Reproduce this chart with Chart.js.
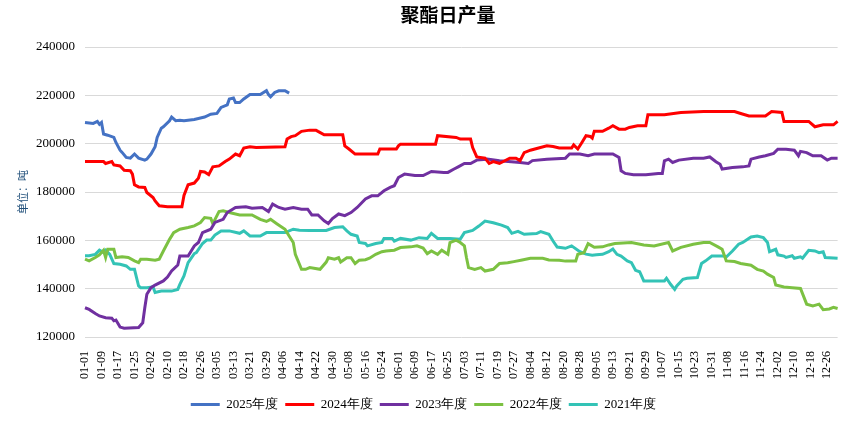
<!DOCTYPE html>
<html>
<head>
<meta charset="utf-8">
<script src="https://cdn.jsdelivr.net/npm/chart.js@4.4.1/dist/chart.umd.min.js"></script>
<style>
  html, body { margin: 0; padding: 0; background: #fff; }
</style>
</head>
<body>
<canvas id="myChart" width="858" height="421"></canvas>
<script>
// categories: every day of a (leap) year, MM-DD
const monthDays = [31, 29, 31, 30, 31, 30, 31, 31, 30, 31, 30, 31];
const categories = [];
monthDays.forEach((n, m) => {
  for (let d = 1; d <= n; d++) {
    categories.push(String(m + 1).padStart(2, '0') + '-' + String(d).padStart(2, '0'));
  }
});
const tickEvery = 8;

const chartTitle = '聚酯日产量';
const yTitle = '单位：吨';
const yMin = 120000;
const yMax = 240000;
const yStep = 20000;

const seriesNames = ['2025年度', '2024年度', '2023年度', '2022年度', '2021年度'];
const seriesColors = ['#4472C4', '#FF0000', '#7030A0', '#7CC142', '#33C3B6'];

// [day index, value]
const s2025 = [[0,208800],[4,208400],[6,209200],[7,208000],[8,208800],[9,204000],[11,203500],[14,202600],[15,200500],[17,197300],[18,196400],[20,194300],[22,194000],[24,195700],[26,194000],[29,193200],[30,193600],[32,195700],[34,198700],[35,202600],[37,206400],[38,207000],[41,209500],[42,211000],[44,209500],[46,209700],[48,209500],[53,210000],[56,210600],[58,211000],[61,212200],[64,212500],[66,215000],[69,216100],[70,218500],[72,218900],[73,217000],[75,217000],[77,218500],[80,220300],[85,220300],[88,221900],[89,220300],[90,219400],[92,221200],[94,221900],[97,221900],[99,220900]];

const s2024 = [[0,192600],[9,192600],[10,191800],[13,192600],[14,191200],[17,190800],[19,189000],[22,188800],[23,187400],[24,183000],[26,182100],[29,181900],[30,179800],[33,177700],[34,176300],[36,174300],[40,173900],[47,173900],[48,178600],[50,183000],[53,183700],[55,185700],[56,188500],[58,188300],[60,187200],[62,190400],[65,190800],[68,192600],[70,193600],[73,195700],[75,195000],[77,198200],[80,198700],[83,198400],[97,198700],[98,201900],[100,202900],[102,203300],[105,205100],[109,205600],[112,205600],[113,205100],[116,203700],[125,203700],[126,199100],[128,197800],[131,195700],[142,195700],[143,197800],[151,197800],[152,199100],[153,199800],[170,199800],[171,203300],[180,202600],[182,201900],[187,201900],[188,198400],[190,194500],[194,194000],[196,191800],[198,192600],[201,191800],[206,194000],[209,194000],[211,193000],[213,196300],[216,197300],[220,198200],[224,199100],[227,198800],[230,198200],[236,198200],[237,199500],[239,197800],[241,200500],[243,203300],[245,203000],[246,202300],[247,205100],[251,205100],[254,206400],[256,207400],[259,206000],[262,206000],[264,206700],[268,207400],[272,207400],[273,212000],[281,212000],[289,212900],[300,213300],[315,213300],[318,212500],[322,211500],[330,211500],[333,213300],[338,212900],[339,209200],[351,209200],[354,207000],[358,207800],[363,207800],[365,209200]];

const s2023 = [[0,132100],[2,131400],[5,129700],[7,128700],[10,128000],[13,127800],[14,126700],[15,127000],[17,124100],[19,123600],[26,123900],[28,125900],[29,132100],[30,137700],[32,140400],[34,141500],[38,143200],[40,144800],[42,147300],[45,149800],[46,153500],[50,153500],[53,157700],[55,159100],[57,163200],[61,164600],[63,167400],[67,168700],[69,171500],[73,173600],[78,173900],[81,173300],[86,173600],[89,171900],[91,175000],[94,173600],[97,172900],[101,173600],[105,172900],[108,172900],[110,170500],[113,170500],[116,168100],[118,167000],[120,169000],[123,170900],[126,170200],[129,171500],[132,173600],[136,177100],[139,178400],[142,178400],[145,180500],[148,181900],[150,182600],[152,186000],[155,187400],[160,186800],[164,186800],[168,188500],[174,188100],[176,188100],[179,189500],[181,190400],[184,191800],[187,191800],[190,193200],[195,193600],[201,192900],[211,192200],[215,191800],[217,193000],[224,193600],[233,194000],[235,195700],[240,195700],[244,195000],[247,195700],[256,195700],[259,194300],[260,188800],[262,187700],[266,187100],[272,187100],[278,187700],[280,187700],[281,192900],[283,193600],[285,192200],[288,193200],[295,194000],[300,194000],[303,194500],[306,192500],[308,191500],[309,189500],[314,190100],[319,190400],[322,190800],[323,193600],[327,194500],[330,195000],[334,196000],[336,197700],[340,197700],[344,197300],[346,195000],[347,196800],[350,196300],[353,195000],[357,195000],[360,193200],[362,194000],[365,194000]];

const s2022 = [[0,152200],[2,151500],[5,152900],[7,154000],[9,155900],[10,152900],[11,156300],[14,156300],[15,152900],[18,153200],[21,152900],[24,151500],[26,150800],[27,152200],[30,152200],[34,151800],[36,152200],[38,155600],[41,160400],[43,163200],[46,164600],[50,165300],[53,166000],[56,167400],[58,169400],[61,169100],[62,166900],[65,171900],[67,172200],[70,171500],[75,170500],[81,170500],[85,168700],[88,167800],[90,168700],[93,166900],[97,164600],[99,161800],[101,159100],[102,154200],[105,148000],[107,148000],[109,148700],[114,148000],[117,151000],[118,152800],[121,152200],[123,152800],[124,151000],[127,152800],[129,152800],[131,150400],[133,151800],[136,152000],[138,152600],[141,154200],[144,155300],[146,155600],[150,155900],[153,157000],[158,157300],[161,157700],[164,156800],[166,154500],[168,155600],[171,154200],[173,155900],[176,154200],[177,159100],[180,160100],[182,159100],[184,157700],[185,152900],[186,148700],[189,148000],[192,148700],[194,147300],[198,148000],[201,150400],[205,150700],[208,151200],[212,151900],[216,152600],[222,152600],[225,151900],[230,151800],[233,151400],[238,151400],[239,154200],[242,154900],[244,158600],[247,157100],[251,157300],[254,158100],[257,158700],[265,159100],[271,158100],[276,157700],[283,159100],[285,155600],[289,157100],[295,158400],[300,159100],[303,159100],[307,157300],[309,156300],[311,151500],[315,151200],[318,150400],[323,149700],[326,148000],[329,147300],[331,146000],[334,144600],[335,141500],[339,140700],[343,140400],[347,140100],[350,133600],[353,132900],[356,133600],[358,131300],[361,131600],[363,132300],[365,131800]];

const s2021 = [[0,153600],[2,153600],[5,154200],[7,155900],[9,154900],[10,155900],[12,154200],[14,150400],[17,150100],[20,149400],[22,148000],[24,148000],[26,141100],[27,140400],[30,140400],[33,140700],[34,138400],[37,139000],[42,139000],[45,139700],[46,141800],[48,145300],[50,150800],[53,154500],[54,154900],[57,158700],[59,160100],[61,160100],[63,162200],[66,163900],[70,163900],[75,162900],[77,163900],[80,161800],[85,161800],[88,163200],[97,163200],[101,164600],[104,164200],[109,164100],[117,164100],[121,165300],[125,165600],[127,163900],[129,162500],[132,161800],[133,159100],[136,158700],[137,157700],[141,158700],[144,159100],[145,160800],[149,160800],[150,159700],[153,160800],[158,160100],[162,161100],[166,160800],[168,162900],[171,160800],[177,160800],[182,160500],[184,163200],[188,164100],[191,165900],[194,168000],[198,167300],[202,166300],[205,165300],[207,162900],[210,163700],[213,162500],[219,162800],[221,163600],[225,162500],[227,159700],[229,157200],[233,156700],[236,157700],[240,155300],[243,154300],[246,153800],[248,154000],[251,154200],[254,155300],[256,156400],[258,154200],[260,153500],[263,151500],[265,150800],[267,147600],[269,147000],[271,143200],[281,143200],[282,144300],[284,141800],[286,139700],[287,141100],[290,143900],[292,144300],[297,144600],[299,150400],[301,151500],[304,153500],[310,153500],[311,153100],[314,155600],[317,158400],[319,159100],[323,161400],[326,161800],[329,161100],[331,159100],[332,155300],[335,156300],[336,154000],[339,153500],[340,152900],[343,153600],[344,152600],[347,153200],[348,152600],[351,155900],[354,155600],[356,154900],[358,155300],[359,152900],[365,152600]];

const seriesData = [s2025, s2024, s2023, s2022, s2021];

const titlePlugin = {
  id: 'centerTitle',
  afterDraw(chart) {
    const ctx = chart.ctx;
    ctx.save();
    ctx.font = 'bold 19px "Noto Sans CJK SC", serif';
    ctx.fillStyle = '#000';
    ctx.textAlign = 'center';
    ctx.textBaseline = 'middle';
    ctx.fillText(chartTitle, 448, 15);
    ctx.restore();
  }
};

const ctx = document.getElementById('myChart');

new Chart(ctx, {
  type: 'line',
  data: {
    labels: categories,
    datasets: seriesData.map((s, i) => ({
      label: seriesNames[i],
      data: s.map(p => ({ x: categories[p[0]], y: p[1] })),
      borderColor: seriesColors[i],
      backgroundColor: seriesColors[i],
      borderWidth: 3,
      pointRadius: 0,
      tension: 0
    }))
  },
  options: {
    responsive: false,
    animation: false,
    layout: {
      padding: { top: 47, right: 11, bottom: 0, left: 0 }
    },
    plugins: {
      legend: {
        position: 'bottom',
        labels: {
          usePointStyle: true,
          pointStyle: 'line',
          pointStyleWidth: 29,
          boxHeight: 3,
          padding: 7,
          color: '#000',
          font: { family: '"Liberation Serif", serif', size: 13 }
        }
      },
      tooltip: { enabled: false }
    },
    scales: {
      x: {
        type: 'category',
        grid: { display: false },
        border: { display: false },
        afterFit: scale => { scale.height = 54; },
        ticks: {
          autoSkip: false,
          minRotation: 90,
          maxRotation: 90,
          padding: 6,
          color: '#000',
          font: { family: '"Liberation Serif", serif', size: 12 },
          callback: (v, i) => (i % tickEvery === 0 ? categories[i] : '')
        }
      },
      y: {
        min: yMin,
        max: yMax,
        afterFit: scale => { scale.width = 85; },
        grid: { color: '#d9d9d9', drawTicks: false },
        border: { display: false },
        ticks: {
          stepSize: yStep,
          padding: 10,
          color: '#000',
          font: { family: '"Liberation Serif", serif', size: 13 },
          callback: v => String(v)
        },
        title: {
          display: true,
          text: yTitle,
          color: '#1f4e79',
          padding: { top: 16 },
          font: { family: '"Noto Sans CJK SC", sans-serif', size: 11 }
        }
      }
    }
  },
  plugins: [titlePlugin]
});
</script>
</body>
</html>
